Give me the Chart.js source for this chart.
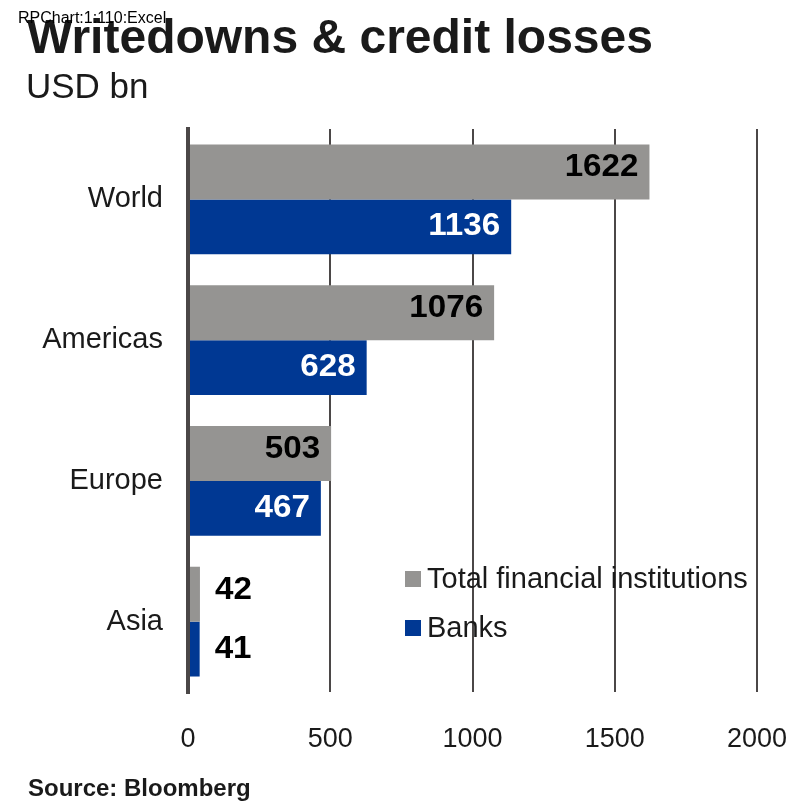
<!DOCTYPE html>
<html>
<head>
<meta charset="utf-8">
<script src="https://cdn.jsdelivr.net/npm/chart.js@4/dist/chart.umd.min.js"></script>
<style>
  html, body { margin: 0; padding: 0; background: #fff; }
</style>
</head>
<body>
<canvas id="chart" width="794" height="803"></canvas>
<script>
let regions = ['World', 'Americas', 'Europe', 'Asia'];
let totalFin = [1622, 1076, 503, 42];
let banks = [1136, 628, 467, 41];
let xTicks = [0, 500, 1000, 1500, 2000];
let seriesNames = ['Total financial institutions', 'Banks'];

let grayCol = '#959492';
let blueCol = '#003893';
let gridCol = '#4b4747';
let textCol = '#1a1a1a';
let fam = "'Liberation Sans', Arial, sans-serif";

// titles, value labels, legend, source
let decor = {
  id: 'decor',
  afterDatasetsDraw(chart) {
    let c = chart.ctx;
    let xs = chart.scales.x;
    let area = chart.chartArea;

    // zero line over the bar starts
    let x0 = xs.getPixelForValue(0);
    c.save();
    c.strokeStyle = gridCol;
    c.lineWidth = 4;
    c.beginPath();
    c.moveTo(x0, area.top - 2);
    c.lineTo(x0, area.bottom + 2);
    c.stroke();

    // value labels
    chart.data.datasets.forEach((ds, i) => {
      let meta = chart.getDatasetMeta(i);
      meta.data.forEach((bar, j) => {
        let v = ds.data[j];
        let inside = v > 300;
        c.save();
        c.font = 'bold 31px ' + fam;
        c.textBaseline = 'middle';
        c.fillStyle = inside ? (i === 0 ? '#000' : '#fff') : '#000';
        let w = c.measureText(String(v)).width * 1.07;
        let tx = inside ? bar.x - 11 - w : bar.x + 15;
        c.translate(tx, bar.y + (i === 0 ? -4 : 0));
        c.scale(1.07, 1);
        c.textAlign = 'left';
        c.fillText(String(v), 0, 0);
        c.restore();
      });
    });

    // legend
    let rows = [579, 628];
    chart.data.datasets.forEach((ds, i) => {
      c.fillStyle = ds.backgroundColor;
      c.fillRect(405, rows[i] - 8, 16, 16);
      c.fillStyle = textCol;
      c.font = '29px ' + fam;
      c.textBaseline = 'middle';
      c.textAlign = 'left';
      c.fillText(ds.label, 427, rows[i] + 1);
    });

    // titles
    c.fillStyle = textCol;
    c.textBaseline = 'alphabetic';
    c.font = 'bold 48px ' + fam;
    c.fillText('Writedowns & credit losses', 27, 53);
    c.font = '35px ' + fam;
    c.fillText('USD bn', 26, 98);
    c.fillStyle = '#000';
    c.font = '16px ' + fam;
    c.fillText('RPChart:1:110:Excel', 18, 23);
    c.fillStyle = textCol;
    c.font = 'bold 24px ' + fam;
    c.fillText('Source: Bloomberg', 28, 796);
    c.restore();
  }
};

let ctx = document.getElementById('chart').getContext('2d');
let chart = new Chart(ctx, {
  type: 'bar',
  data: {
    labels: regions,
    datasets: [
      {
        label: seriesNames[0],
        data: totalFin,
        backgroundColor: grayCol,
        borderWidth: 0,
        categoryPercentage: 0.78,
        barPercentage: 1.0
      },
      {
        label: seriesNames[1],
        data: banks,
        backgroundColor: blueCol,
        borderWidth: 0,
        categoryPercentage: 0.78,
        barPercentage: 1.0
      }
    ]
  },
  options: {
    indexAxis: 'y',
    responsive: false,
    animation: false,
    events: [],
    layout: { padding: { top: 129, right: 37, bottom: 0, left: 0 } },
    plugins: {
      legend: { display: false },
      tooltip: { enabled: false },
      title: { display: false }
    },
    scales: {
      x: {
        min: 0,
        max: 2000,
        afterBuildTicks: s => { s.ticks = xTicks.map(v => ({ value: v })); },
        afterFit: s => { s.height = 111; s.paddingLeft = 0; s.paddingRight = 0; },
        grid: {
          color: gridCol,
          lineWidth: c => (c.tick && c.tick.value === 0 ? 4 : 2),
          drawTicks: false
        },
        border: { display: false },
        ticks: {
          color: textCol,
          font: { family: fam, size: 27 },
          padding: 31,
          maxRotation: 0,
          callback: v => String(v)
        }
      },
      y: {
        afterFit: s => { s.width = 188; s.paddingTop = 0; s.paddingBottom = 0; },
        grid: { display: false, drawTicks: false },
        border: { display: false },
        ticks: {
          color: textCol,
          font: { family: fam, size: 29 },
          padding: 25
        }
      }
    }
  },
  plugins: [decor]
});
</script>
</body>
</html>
